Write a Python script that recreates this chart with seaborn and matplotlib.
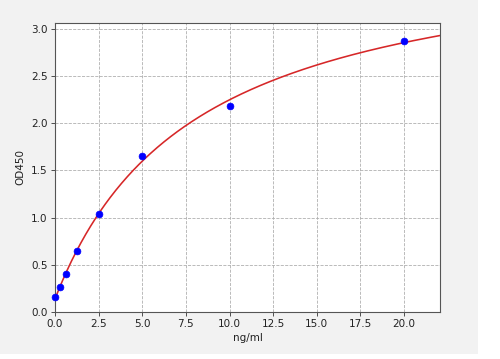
import numpy as np
import pandas as pd
import matplotlib
matplotlib.use("Agg")
import matplotlib.pyplot as plt
import seaborn as sns
from matplotlib.patches import Rectangle

conc = [0.0, 0.3125, 0.625, 1.25, 2.5, 5.0, 10.0, 20.0]
od450 = [0.153, 0.266, 0.400, 0.642, 1.040, 1.655, 2.190, 2.880]
x_label = "ng/ml"
y_label = "OD450"

# 4PL fit by Levenberg-Marquardt
xd = np.array(conc); yd = np.array(od450)
def f(p, x):
    a, b, c, d = p
    return d + (a - d) / (1.0 + (np.maximum(x, 1e-12) / c) ** b)
p = np.array([0.15, 1.0, 8.0, 4.0])
lam = 1e-3
for _ in range(2000):
    r = yd - f(p, xd)
    J = np.zeros((len(xd), 4))
    for k in range(4):
        dp = np.zeros(4); dp[k] = 1e-6 * max(1.0, abs(p[k]))
        J[:, k] = (f(p + dp, xd) - f(p, xd)) / dp[k]
    A = J.T @ J; g = J.T @ r
    step = np.linalg.solve(A + lam * np.diag(np.diag(A)), g)
    pn = p + step
    if pn[2] > 0 and np.sum((yd - f(pn, xd))**2) < np.sum(r**2):
        p = pn; lam *= 0.5
    else:
        lam *= 5
xf = np.linspace(0, 22.06, 400)
fit = pd.DataFrame({"x": xf, "y": f(p, xf)})
pts = pd.DataFrame({"x": conc, "y": od450})

sns.set_style("white")
fs = 7.5
fig = plt.figure(figsize=(5.0, 3.59), dpi=100, facecolor="white")
fig.patches.append(Rectangle((0, 1 - 354/359), 478/500, 354/359, transform=fig.transFigure,
                             facecolor="#f2f2f2", edgecolor="none", zorder=-10))
ax = fig.add_axes([55/500, 1 - 311.7/359, (440-55)/500, (311.7-22.7)/359])
ax.set_facecolor("white")
sns.lineplot(data=fit, x="x", y="y", ax=ax, color="#d62728", linewidth=1.15, zorder=2)
sns.scatterplot(data=pts, x="x", y="y", ax=ax, color="#0000ff", s=24, edgecolor="#0000ff",
                linewidth=0.5, zorder=3, clip_on=False)
ax.set_xlim(0, 22.06)
ax.set_ylim(0, 3.07)
ax.set_xticks(np.arange(0, 20.1, 2.5))
ax.set_yticks(np.arange(0, 3.01, 0.5))
ax.xaxis.set_major_formatter(matplotlib.ticker.FormatStrFormatter("%.1f"))
ax.yaxis.set_major_formatter(matplotlib.ticker.FormatStrFormatter("%.1f"))
ax.grid(True, linestyle="--", color="#b0b0b0", linewidth=0.6)
ax.set_axisbelow(True)
for s in ax.spines.values():
    s.set_color("#555555"); s.set_linewidth(0.8)
ax.tick_params(axis="both", which="both", length=2.6, width=0.6, color="#333333", pad=2.6,
               labelsize=fs, labelcolor="#222222", bottom=True, left=True)
ax.set_xlabel(x_label, fontsize=fs, color="#222222")
ax.set_ylabel(y_label, fontsize=fs, color="#222222")
ax.xaxis.set_label_coords(0.5, (311.7 - 338) / 289.0)
ax.xaxis.label.set_verticalalignment("center")
ax.yaxis.set_label_coords((20 - 55) / 385.0, 0.5)
ax.yaxis.label.set_verticalalignment("center")
fig.savefig("out.png", dpi=100, facecolor=fig.get_facecolor())
